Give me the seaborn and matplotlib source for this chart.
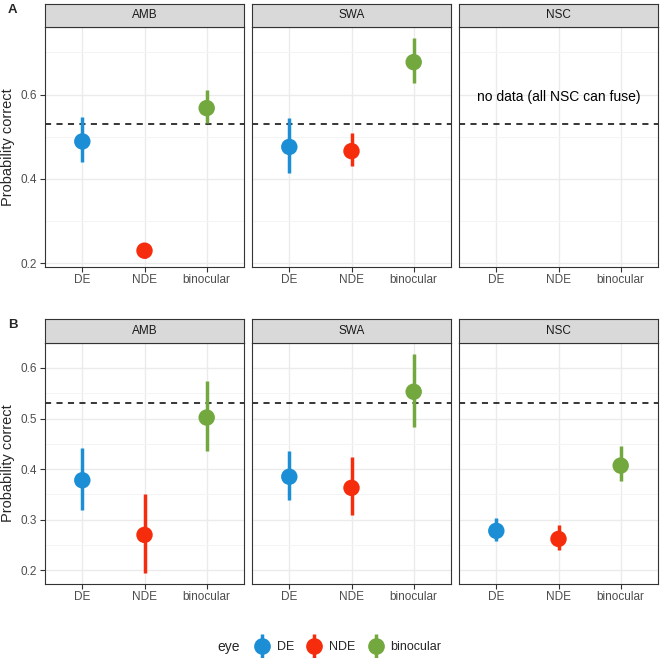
import pandas as pd
import matplotlib
matplotlib.use("Agg")
import matplotlib.pyplot as plt
import seaborn as sns
from matplotlib.lines import Line2D

sns.set_style("white")
plt.rcParams["font.family"] = ["Liberation Sans", "DejaVu Sans"]

eyes = ["DE", "NDE", "binocular"]
groups = ["AMB", "SWA", "NSC"]
colors = {"DE": "#1B8ED5", "NDE": "#F62D0D", "binocular": "#72A83E"}
chance = 0.53

# panel A (no NSC data)
a_group = ["AMB"] * 3 + ["SWA"] * 3
a_eye = eyes * 2
a_mean = [0.489, 0.230, 0.568, 0.476, 0.466, 0.677]
a_lo = [0.440, 0.212, 0.532, 0.415, 0.430, 0.627]
a_hi = [0.546, 0.249, 0.611, 0.544, 0.508, 0.734]

# panel B
b_group = ["AMB"] * 3 + ["SWA"] * 3 + ["NSC"] * 3
b_eye = eyes * 3
b_mean = [0.378, 0.270, 0.502, 0.385, 0.363, 0.553, 0.278, 0.262, 0.407]
b_lo = [0.319, 0.195, 0.436, 0.339, 0.309, 0.483, 0.258, 0.240, 0.376]
b_hi = [0.441, 0.351, 0.574, 0.436, 0.424, 0.628, 0.303, 0.289, 0.445]

df_a = pd.DataFrame({"group": a_group, "eye": a_eye, "mean": a_mean, "lo": a_lo, "hi": a_hi})
df_b = pd.DataFrame({"group": b_group, "eye": b_eye, "mean": b_mean, "lo": b_lo, "hi": b_hi})

W, H = 661, 658
fig = plt.figure(figsize=(W / 100, H / 100), dpi=100)

lefts = [45, 252, 459]
pw = 199

rows = [
    # df, strip top, panel top, panel bottom, ylim, major, minor, letter
    (df_a, 4, 26.7, 266.7, (0.192, 0.761), [0.2, 0.4, 0.6], [0.3, 0.5, 0.7], "A"),
    (df_b, 319, 342.7, 583.7, (0.1735, 0.650), [0.2, 0.3, 0.4, 0.5, 0.6],
     [0.25, 0.35, 0.45, 0.55, 0.65], "B"),
]

for df, st, pt, pb, ylim, major, minor, letter in rows:
    for j, g in enumerate(groups):
        x0 = lefts[j] / W
        ax = fig.add_axes([x0, 1 - pb / H, pw / W, (pb - pt) / H])
        sax = fig.add_axes([x0, 1 - pt / H, pw / W, (pt - st) / H])
        sax.set_facecolor("#D9D9D9")
        sax.set_xticks([])
        sax.set_yticks([])
        for s in sax.spines.values():
            s.set_color("#333333")
            s.set_linewidth(0.8)
        sax.text(0.5, 0.5, g, ha="center", va="center", fontsize=8.5, color="#1A1A1A")

        sub = df[df["group"] == g].copy()
        sub["x"] = sub["eye"].map(eyes.index)

        ax.set_xlim(-0.6, 2.6)
        ax.set_ylim(*ylim)
        ax.set_yticks(major)
        ax.set_yticks(minor, minor=True)
        ax.set_xticks(range(len(eyes)))
        ax.set_xticklabels(eyes)
        ax.grid(True, which="major", color="#EBEBEB", lw=1.0)
        ax.grid(True, which="minor", axis="y", color="#F4F4F4", lw=0.7)
        ax.set_axisbelow(True)

        ax.axhline(chance, color="black", lw=1.1, ls=(0, (4, 3.5)), zorder=2)

        if len(sub):
            ax.vlines(sub["x"], sub["lo"], sub["hi"], colors=sub["eye"].map(colors),
                      lw=2.5, zorder=3)
            sns.scatterplot(data=sub, x="x", y="mean", hue="eye", palette=colors,
                            s=140, linewidth=0, legend=False, ax=ax, zorder=4)
        else:
            ax.text(1.0, 0.595, "no data (all NSC can fuse)", ha="center", va="center",
                    fontsize=10, color="black")

        ax.set_xlabel("")
        ax.set_ylabel("")
        for s in ax.spines.values():
            s.set_color("#333333")
            s.set_linewidth(0.8)
        ax.tick_params(axis="x", bottom=True, length=3.5, width=0.8, color="#333333",
                       labelcolor="#4D4D4D", labelsize=8.5, pad=2)
        ax.tick_params(axis="y", which="minor", length=0)
        if j == 0:
            ax.tick_params(axis="y", left=True, length=3.5, width=0.8, color="#333333",
                           labelcolor="#4D4D4D", labelsize=8.5, pad=2)
            ax.set_yticklabels([f"{v:.1f}" for v in major])
            ax.set_ylabel("Probability correct", fontsize=10.5, labelpad=4)
        else:
            ax.tick_params(axis="y", left=False, labelleft=False)

    fig.text(8 / W, 1 - (st + 6) / H, letter, fontsize=9.5, fontweight="bold",
             ha="left", va="center")

# legend
handles = [(Line2D([], [], color=colors[e], marker="|", markersize=18, mew=2.5, ls="none"),
            Line2D([], [], color=colors[e], marker="o", markersize=11, ls="none"))
           for e in eyes]
fig.legend(handles, eyes, loc="center", bbox_to_anchor=(348 / W, 1 - 647 / H), ncol=3,
           frameon=False, fontsize=9, handlelength=1.2, handletextpad=0.6,
           columnspacing=1.0)
fig.text(229 / W, 1 - 647 / H, "eye", fontsize=10, ha="center", va="center")

fig.savefig("out.png", dpi=100)
